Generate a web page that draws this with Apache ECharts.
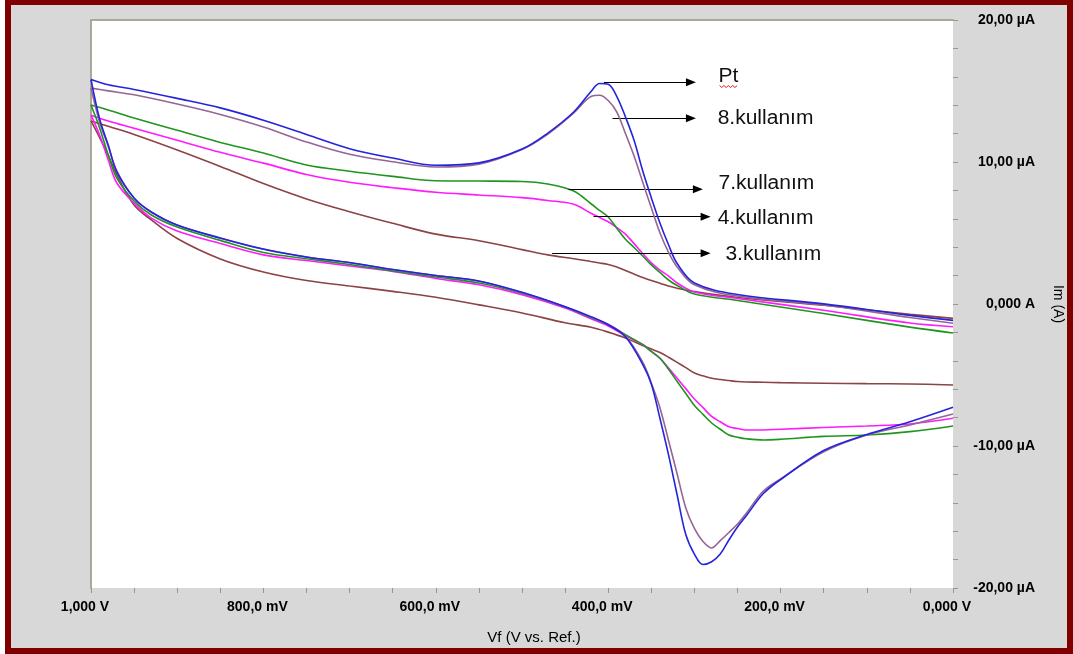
<!DOCTYPE html>
<html>
<head>
<meta charset="utf-8">
<script src="https://cdn.jsdelivr.net/npm/echarts@6/dist/echarts.min.js"></script>
<style>
html,body{margin:0;padding:0;background:#fff;}
#chart{width:1073px;height:654px;}
</style>
</head>
<body>
<div id="chart"></div>
<script>
// ---- Data (V in volts, current in µA) ----
const vForward = [1.0, 0.98, 0.95, 0.9, 0.85, 0.8, 0.75, 0.7, 0.65, 0.6, 0.55, 0.5, 0.47, 0.44, 0.42, 0.41, 0.40, 0.39, 0.38, 0.37, 0.36, 0.35, 0.34, 0.33, 0.32, 0.30, 0.25, 0.15, 0.05, 0.0];
const vReverse = [0.0, 0.05, 0.1, 0.15, 0.2, 0.22, 0.24, 0.25, 0.26, 0.27, 0.28, 0.29, 0.30, 0.31, 0.32, 0.33, 0.34, 0.35, 0.36, 0.38, 0.40, 0.42, 0.45, 0.5, 0.55, 0.6, 0.65, 0.7, 0.75, 0.8, 0.85, 0.9, 0.93, 0.95, 0.97, 0.98, 0.99, 1.0];

const ptFwd = [15.81, 15.44, 15.11, 14.48, 13.81, 12.94, 11.94, 10.94, 10.28, 9.77, 9.94, 10.91, 12.04, 13.52, 14.96, 15.53, 15.47, 14.61, 13.18, 11.53, 9.39, 7.49, 5.70, 4.17, 2.85, 1.48, 0.67, 0.01, -0.80, -1.15];
const ptRev = [-7.27, -8.29, -9.19, -10.32, -12.36, -13.35, -14.93, -15.70, -16.62, -17.61, -18.15, -18.35, -17.61, -16.23, -13.45, -10.63, -8.05, -5.63, -4.25, -2.30, -1.46, -0.89, -0.19, 0.82, 1.62, 2.01, 2.43, 2.92, 3.31, 3.87, 4.65, 5.56, 6.48, 7.46, 9.30, 11.2, 13.03, 15.81];

const k8Fwd = [15.2, 15.01, 14.73, 14.08, 13.35, 12.47, 11.41, 10.54, 10.02, 9.65, 9.85, 10.88, 11.97, 13.45, 14.61, 14.70, 14.33, 13.52, 12.01, 10.42, 8.59, 6.78, 5.02, 3.64, 2.61, 1.35, 0.56, -0.07, -0.95, -1.35];
const k8Rev = [-7.75, -8.52, -9.23, -10.41, -12.32, -13.18, -14.75, -15.49, -16.09, -16.66, -17.18, -16.73, -15.80, -14.36, -11.97, -9.61, -7.30, -5.56, -4.09, -2.25, -1.44, -0.95, -0.20, 0.80, 1.60, 2.00, 2.42, 2.90, 3.30, 3.85, 4.63, 5.54, 6.46, 7.45, 9.35, 11.1, 12.8, 15.2];

const k7Fwd = [14.01, 13.66, 13.10, 12.23, 11.38, 10.63, 9.79, 9.35, 8.99, 8.68, 8.66, 8.63, 8.45, 7.96, 7.06, 6.59, 6.13, 5.33, 4.56, 3.98, 3.38, 2.75, 2.22, 1.69, 1.30, 0.70, 0.25, -0.67, -1.63, -2.04];
const k7Rev = [-8.59, -8.99, -9.23, -9.32, -9.53, -9.58, -9.49, -9.38, -9.23, -8.82, -8.38, -7.77, -7.15, -6.30, -5.46, -4.59, -3.82, -3.34, -2.86, -2.16, -1.44, -0.97, -0.21, 0.76, 1.48, 1.90, 2.32, 2.78, 3.19, 3.63, 4.48, 5.42, 6.27, 7.25, 8.87, 10.49, 12.4, 14.01];

const k4Fwd = [13.3, 12.89, 12.38, 11.53, 10.68, 9.92, 9.12, 8.57, 8.19, 7.87, 7.68, 7.49, 7.29, 7.02, 6.39, 6.09, 5.79, 5.38, 4.92, 4.25, 3.56, 2.90, 2.39, 1.97, 1.48, 0.85, 0.39, -0.44, -1.34, -1.60];
const k4Rev = [-8.05, -8.45, -8.59, -8.70, -8.82, -8.87, -8.87, -8.77, -8.65, -8.29, -7.92, -7.30, -6.69, -5.96, -5.23, -4.50, -3.82, -3.34, -2.85, -2.23, -1.55, -1.04, -0.28, 0.66, 1.35, 1.80, 2.30, 2.68, 3.06, 3.46, 4.26, 5.14, 6.05, 7.10, 8.52, 10.14, 11.90, 13.3];

const k3Fwd = [12.89, 12.51, 11.94, 10.85, 9.69, 8.48, 7.40, 6.50, 5.68, 4.92, 4.46, 3.83, 3.46, 3.19, 2.99, 2.89, 2.78, 2.61, 2.36, 2.11, 1.87, 1.65, 1.46, 1.27, 1.11, 0.87, 0.46, -0.09, -0.72, -1.01];
const k3Rev = [-5.70, -5.63, -5.61, -5.58, -5.54, -5.51, -5.49, -5.46, -5.39, -5.32, -5.23, -5.06, -4.86, -4.48, -4.11, -3.75, -3.42, -3.17, -2.92, -2.39, -1.98, -1.64, -1.32, -0.63, -0.06, 0.47, 0.89, 1.27, 1.65, 2.25, 3.17, 4.61, 5.92, 6.97, 9.08, 10.49, 11.72, 12.89];

const seriesNames = ['3.kullanım', '4.kullanım', '7.kullanım', '8.kullanım', 'Pt'];
const seriesColors = ['#8b4343', '#ff1aff', '#1f951f', '#956595', '#2424dc'];

const xTickValues = [1, 0.8, 0.6, 0.4, 0.2, 0];
const xTickLabels = ['1,000 V', '800,0 mV', '600,0 mV', '400,0 mV', '200,0 mV', '0,000 V'];
const yTickValues = [20, 10, 0, -10, -20];
const yTickLabels = ['20,00 µA', '10,00 µA', '0,000 A', '-10,00 µA', '-20,00 µA'];

// annotations (arrow from/to voltage, current level; text anchor)
const annLabels = ['Pt', '8.kullanım', '7.kullanım', '4.kullanım', '3.kullanım'];
const annFromV = [0.405, 0.395, 0.446, 0.417, 0.465];
const annToV = [0.304, 0.304, 0.296, 0.287, 0.287];
const annI = [15.61, 13.08, 8.08, 6.15, 3.57];
const annTextV = [0.272, 0.273, 0.272, 0.273, 0.264];
const annTextI = [16.02, 13.03, 8.52, 5.99, 3.49];

function branch(volts, currents) {
  return volts.map((v, k) => [v, currents[k]]);
}
const curves = [
  [k3Fwd, k3Rev], [k4Fwd, k4Rev], [k7Fwd, k7Rev], [k8Fwd, k8Rev], [ptFwd, ptRev]
];

function pick(vals, labels, v) {
  for (let i = 0; i < vals.length; i++) if (Math.abs(vals[i] - v) < 1e-6) return labels[i];
  return '';
}

const chart = echarts.init(document.getElementById('chart'), null, {renderer: 'canvas'});

const series = [];
curves.forEach((c, i) => {
  [branch(vForward, c[0]), branch(vReverse, c[1])].forEach((d, b) => {
    series.push({
      name: seriesNames[i],
      type: 'line',
      data: d,
      showSymbol: false,
      smooth: 0.35,
      lineStyle: {color: seriesColors[i], width: 1.6},
      itemStyle: {color: seriesColors[i]},
      silent: true,
      z: 2 + i
    });
  });
});

// arrows as markLines on a helper series
series.push({
  type: 'line',
  data: [],
  silent: true,
  markLine: {
    silent: true,
    symbol: ['none', 'triangle'],
    symbolSize: [8, 10],
    label: {show: false},
    lineStyle: {color: '#000', width: 1.2, type: 'solid'},
    emphasis: {disabled: true},
    data: annLabels.map((n, i) => [{coord: [annFromV[i], annI[i]]}, {coord: [annToV[i], annI[i]]}])
  }
});

const axisGray = '#9c9788';
const frame = {
  type: 'rect', z: -10, silent: true,
  shape: {x: 8, y: 2, width: 1062, height: 649},
  style: {fill: '#d8d8d8', stroke: '#800000', lineWidth: 6}
};

chart.setOption({
  animation: false,
  backgroundColor: '#ffffff',
  graphic: [frame],
  grid: {left: 91, right: 118, top: 20, bottom: 66, show: true, backgroundColor: '#ffffff', borderWidth: 0},
  xAxis: [{
    type: 'value', min: 0, max: 1, interval: 0.2, inverse: true,
    position: 'bottom',
    axisLine: {show: false, onZero: false},
    axisTick: {show: true, length: 5, inside: false, lineStyle: {color: axisGray, width: 1}},
    minorTick: {show: true, splitNumber: 4, length: 5, lineStyle: {color: axisGray, width: 1}},
    splitLine: {show: false},
    axisLabel: {
      showMinLabel: true, showMaxLabel: true, margin: 12,
      fontFamily: 'Arial, "Liberation Sans", sans-serif', fontWeight: 'bold', fontSize: 14, color: '#000',
      padding: [0, 12, 0, 0],
      formatter: v => pick(xTickValues, xTickLabels, v)
    },
    name: 'Vf (V vs. Ref.)',
    nameLocation: 'middle', nameGap: 42,
    nameTextStyle: {fontFamily: 'Arial, "Liberation Sans", sans-serif', fontSize: 15, color: '#000', padding: [0, 0, 0, 24]}
  }, {
    type: 'value', min: 0, max: 1, inverse: true, position: 'top',
    axisLine: {show: true, onZero: false, lineStyle: {color: '#aca899', width: 2}},
    axisTick: {show: false}, axisLabel: {show: false}, splitLine: {show: false}
  }],
  yAxis: [{
    type: 'value', min: -20, max: 20, interval: 10, position: 'right',
    axisLine: {show: false, onZero: false},
    axisTick: {show: true, length: 5, lineStyle: {color: axisGray, width: 1}},
    minorTick: {show: true, splitNumber: 5, length: 5, lineStyle: {color: axisGray, width: 1}},
    splitLine: {show: false},
    axisLabel: {
      showMinLabel: true, showMaxLabel: true, margin: 82, align: 'right',
      fontFamily: 'Arial, "Liberation Sans", sans-serif', fontWeight: 'bold', fontSize: 14, color: '#000',
      formatter: v => pick(yTickValues, yTickLabels, v)
    },
    name: 'Im (A)',
    nameLocation: 'middle', nameRotate: -90, nameGap: 98,
    nameTextStyle: {fontFamily: 'Arial, "Liberation Sans", sans-serif', fontSize: 14, color: '#000'}
  }, {
    type: 'value', min: -20, max: 20, position: 'left',
    axisLine: {show: true, onZero: false, lineStyle: {color: '#aca899', width: 2}},
    axisTick: {show: false}, axisLabel: {show: false}, splitLine: {show: false}
  }],
  series: series
});

// annotation texts placed via the chart's own coordinate conversion
const extra = [];
annLabels.forEach((t, i) => {
  const p = chart.convertToPixel({xAxisIndex: 0, yAxisIndex: 0}, [annTextV[i], annTextI[i]]);
  extra.push({
    type: 'text', silent: true, z: 20, x: p[0], y: p[1], scaleX: 1.05,
    style: {text: t, fill: '#111', font: '20px Arial, "Liberation Sans", sans-serif', textAlign: 'left', textVerticalAlign: 'middle'}
  });
  if (i === 0) {
    const pts = [];
    for (let k = 0; k <= 8; k++) pts.push([p[0] + 1 + k * 2.2, p[1] + 9 + (k % 2 ? 2 : 0)]);
    extra.push({type: 'polyline', silent: true, z: 20, shape: {points: pts}, style: {stroke: '#e02020', lineWidth: 1, fill: null}});
  }
});
chart.setOption({graphic: [frame].concat(extra)}, {replaceMerge: ['graphic']});
</script>
</body>
</html>
